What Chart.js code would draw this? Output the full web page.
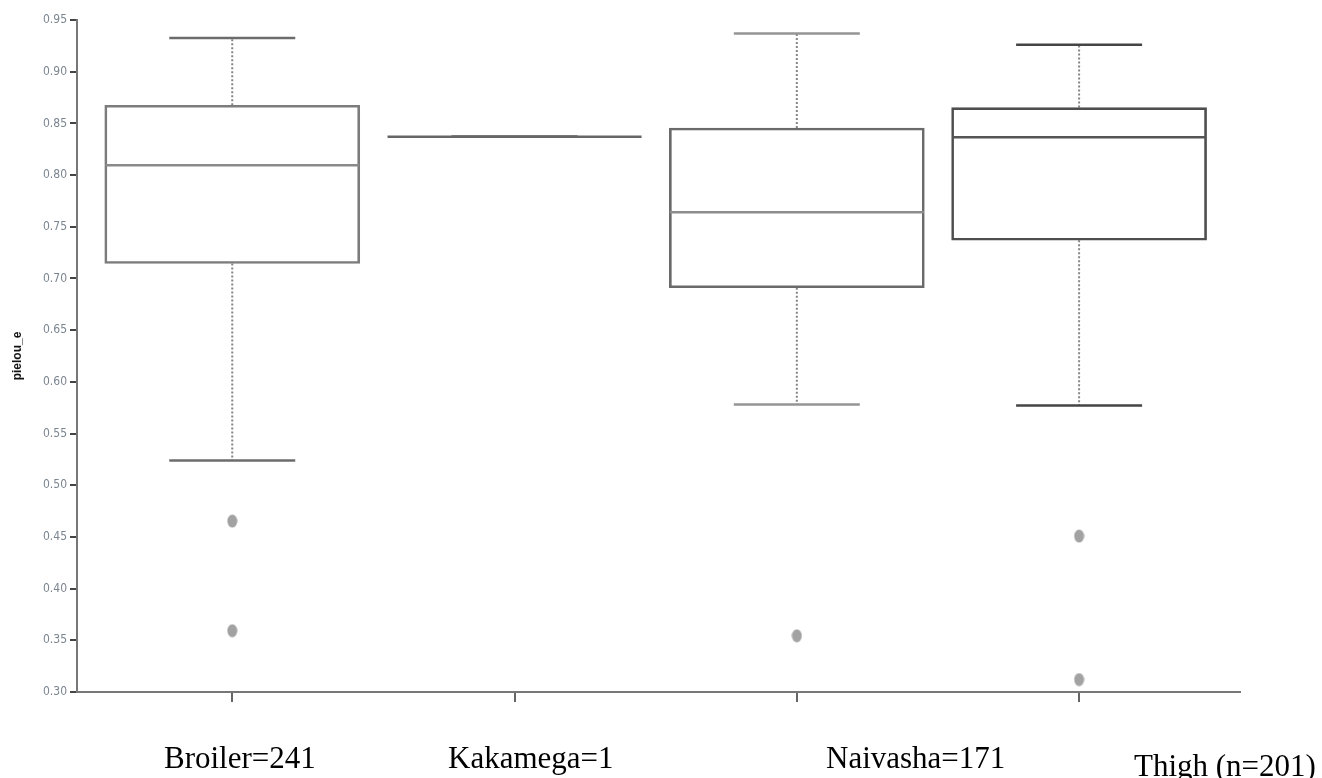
<!DOCTYPE html>
<html>
<head>
<meta charset="utf-8">
<script src="https://cdn.jsdelivr.net/npm/chart.js@4/dist/chart.umd.min.js"></script>
<style>
  body { margin: 0; background: #fff; }
  #wrap { position: relative; width: 1322px; height: 778px; }
  .group {
    position: absolute;
    font-family: 'Liberation Serif', 'Times New Roman', serif;
    font-size: 31px;
    line-height: 31px;
    color: #000;
    white-space: nowrap;
  }
</style>
</head>
<body>
<div id="wrap">
  <canvas id="boxChart" width="1322" height="778"></canvas>
  <div class="group" style="left:164px; top:742px;" id="g0"></div>
  <div class="group" style="left:448px; top:742px;" id="g1"></div>
  <div class="group" style="left:826px; top:742px;" id="g2"></div>
  <div class="group" style="left:1134px; top:750px;" id="g3"></div>
</div>
<script>
// pielou_e per group
const categories = ['Broiler', 'Kakamega', 'Naivasha', 'Thigh'];
const groupLabels = ['Broiler=241', 'Kakamega=1', 'Naivasha=171', 'Thigh (n=201)'];
const whiskerLow = [0.524, 0.837, 0.578, 0.577];
const q1 = [0.7145, 0.837, 0.691, 0.737];
const median = [0.8095, 0.837, 0.764, 0.8366];
const q3 = [0.8675, 0.837, 0.8455, 0.8653];
const whiskerHigh = [0.9326, 0.837, 0.937, 0.926];
const outliers = [[0.4653, 0.3593], [], [0.3544], [0.4508, 0.312]];
const yMin = 0.30, yMax = 0.95, yStep = 0.05;

// line colours per group
const boxColors = ['#7c7c7c', '#666666', '#6a6a6a', '#4e4e4e'];
const medianColors = ['#8a8a8a', '#666666', '#8c8c8c', '#555555'];
const capColors = ['#6c6c6c', '#666666', '#959595', '#454545'];

groupLabels.forEach((t, i) => { document.getElementById('g' + i).textContent = t; });

// grey oval used for the outlier dots
const dot = document.createElement('canvas');
dot.width = 11; dot.height = 14;
const dctx = dot.getContext('2d');
dctx.fillStyle = '#a2a2a2';
dctx.beginPath();
dctx.ellipse(5.5, 7, 5, 6.5, 0, 0, Math.PI * 2);
dctx.fill();

const xs = categories.map((c, i) => i + 1);

const whiskerData = [];
xs.forEach((x, i) => {
  whiskerData.push({ x: x, y: q3[i] }, { x: x, y: whiskerHigh[i] }, { x: x, y: null });
  whiskerData.push({ x: x, y: q1[i] }, { x: x, y: whiskerLow[i] }, { x: x, y: null });
});

const outlierData = [];
outliers.forEach((list, i) => list.forEach(v => outlierData.push({ x: xs[i], y: v })));

const ctx = document.getElementById('boxChart').getContext('2d');
new Chart(ctx, {
  type: 'bar',
  data: {
    datasets: [
      {
        type: 'scatter',
        label: 'median',
        data: xs.map((x, i) => ({ x: x, y: median[i] })),
        pointStyle: 'line',
        pointRadius: 127,
        pointBorderWidth: 2.5,
        pointBorderColor: medianColors,
        order: 1
      },
      {
        type: 'bar',
        label: 'box',
        data: xs.map((x, i) => ({ x: x, y: [q1[i], q3[i]] })),
        backgroundColor: 'rgba(255,255,255,0)',
        borderColor: boxColors,
        borderWidth: 2,
        borderSkipped: false,
        barThickness: 255,
        grouped: false,
        order: 2
      },
      {
        type: 'scatter',
        label: 'caps',
        data: xs.map((x, i) => ({ x: x, y: whiskerHigh[i] }))
          .concat(xs.map((x, i) => ({ x: x, y: whiskerLow[i] }))),
        pointStyle: 'line',
        pointRadius: 63,
        pointBorderWidth: 2.5,
        pointBorderColor: capColors.concat(capColors),
        order: 3
      },
      {
        type: 'line',
        label: 'whiskers',
        data: whiskerData,
        borderColor: '#858585',
        borderWidth: 2,
        borderDash: [2, 2],
        pointRadius: 0,
        spanGaps: false,
        order: 4
      },
      {
        type: 'scatter',
        label: 'outliers',
        data: outlierData,
        pointStyle: dot,
        order: 5
      }
    ]
  },
  options: {
    responsive: false,
    animation: false,
    layout: {
      autoPadding: false,
      padding: { top: 20, right: 82, left: 0, bottom: 0 }
    },
    plugins: {
      legend: { display: false },
      tooltip: { enabled: false }
    },
    scales: {
      x: {
        type: 'linear',
        min: 0.45,
        max: 4.57,
        offset: false,
        afterBuildTicks: scale => { scale.ticks = xs.map(v => ({ value: v })); },
        afterFit: scale => { scale.height = 86; },
        ticks: { display: false },
        grid: {
          offset: false,
          drawOnChartArea: false,
          drawTicks: true,
          tickLength: 10,
          color: '#666',
          lineWidth: 2
        },
        border: { display: true, color: '#777', width: 2 }
      },
      y: {
        min: yMin,
        max: yMax,
        afterFit: scale => { scale.width = 77; },
        ticks: {
          stepSize: yStep,
          padding: 3,
          color: '#7b8590',
          font: { family: "'DejaVu Sans Condensed', 'Liberation Sans', sans-serif", size: 12 },
          callback: v => v.toFixed(2)
        },
        grid: {
          drawOnChartArea: false,
          drawTicks: true,
          tickLength: 7,
          color: '#444',
          lineWidth: 2
        },
        border: { display: true, color: '#777', width: 2 },
        title: {
          display: true,
          text: 'pielou_e',
          color: '#111',
          padding: { top: 10, bottom: 0 },
          font: { family: "'Liberation Sans', Arial, sans-serif", size: 12, weight: 'bold' }
        }
      }
    }
  }
});
</script>
</body>
</html>
